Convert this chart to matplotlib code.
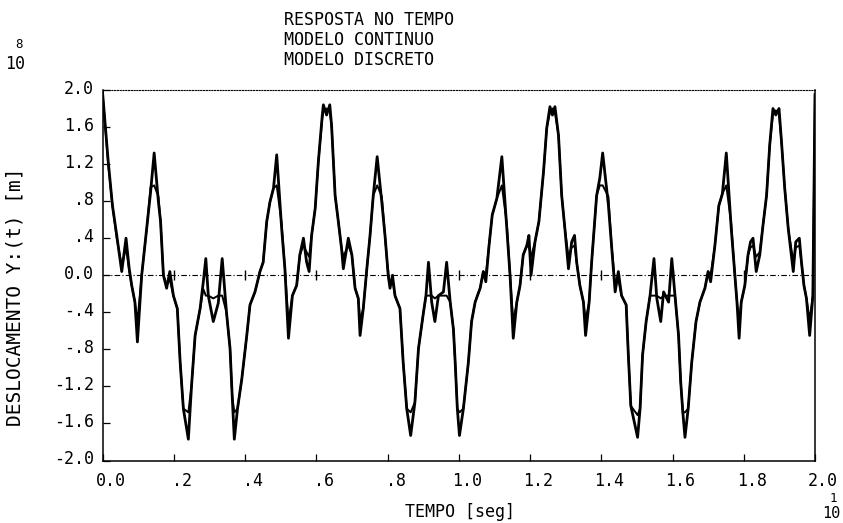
import matplotlib
matplotlib.use("Agg")
import matplotlib.pyplot as plt
from matplotlib.transforms import ScaledTranslation

# ---------------- data ----------------
tempo = [
    0.000, 0.016, 0.028, 0.040, 0.054, 0.066, 0.075, 0.082, 0.091, 0.098,
    0.110, 0.124, 0.135, 0.145, 0.157, 0.163, 0.171, 0.180, 0.189, 0.199,
    0.210, 0.218, 0.227, 0.241, 0.250, 0.260, 0.274, 0.283, 0.290, 0.297,
    0.311, 0.325, 0.336, 0.348, 0.358, 0.364, 0.370, 0.379, 0.391, 0.405,
    0.414, 0.428, 0.442, 0.451, 0.461, 0.470, 0.480, 0.489, 0.503, 0.512,
    0.522, 0.533, 0.545, 0.554, 0.564, 0.573, 0.580, 0.587, 0.597, 0.606,
    0.617, 0.620, 0.629, 0.638, 0.643, 0.653, 0.662, 0.671, 0.676, 0.690,
    0.700, 0.709, 0.718, 0.723, 0.732, 0.742, 0.751, 0.760, 0.771, 0.784,
    0.793, 0.802, 0.807, 0.814, 0.821, 0.835, 0.844, 0.854, 0.865, 0.877,
    0.887, 0.901, 0.908, 0.915, 0.924, 0.933, 0.943, 0.957, 0.966, 0.976,
    0.985, 0.990, 0.996, 1.002, 1.013, 1.027, 1.036, 1.046, 1.060, 1.069,
    1.076, 1.085, 1.094, 1.107, 1.121, 1.135, 1.144, 1.153, 1.163, 1.172,
    1.181, 1.191, 1.197, 1.203, 1.214, 1.225, 1.238, 1.247, 1.256, 1.263,
    1.270, 1.280, 1.289, 1.298, 1.308, 1.317, 1.325, 1.331, 1.340, 1.350,
    1.356, 1.366, 1.373, 1.378, 1.387, 1.396, 1.404, 1.420, 1.429, 1.439,
    1.448, 1.457, 1.470, 1.476, 1.483, 1.502, 1.509, 1.516, 1.526, 1.537,
    1.548, 1.556, 1.567, 1.575, 1.589, 1.598, 1.607, 1.617, 1.623, 1.629,
    1.635, 1.644, 1.654, 1.666, 1.677, 1.691, 1.700, 1.707, 1.719, 1.730,
    1.740, 1.751, 1.765, 1.775, 1.781, 1.787, 1.793, 1.803, 1.812, 1.819,
    1.826, 1.835, 1.845, 1.854, 1.864, 1.873, 1.882, 1.890, 1.899, 1.906,
    1.915, 1.925, 1.939, 1.946, 1.956, 1.962, 1.969, 1.976, 1.985, 1.994, 2.000,
]

y_continuo = [
    1.98, 1.23, 0.75, 0.43, 0.04, 0.40, 0.07, -0.11, -0.29, -0.72,
    0.00, 0.50, 0.90, 1.32, 0.79, 0.58, 0.00, -0.14, 0.04, -0.22,
    -0.36, -0.94, -1.44, -1.77, -1.19, -0.65, -0.36, -0.07, 0.18, -0.22,
    -0.50, -0.30, 0.18, -0.40, -0.79, -1.30, -1.77, -1.44, -1.12, -0.65,
    -0.32, -0.18, 0.04, 0.14, 0.58, 0.79, 0.94, 1.30, 0.50, 0.07,
    -0.68, -0.22, -0.11, 0.22, 0.40, 0.14, 0.04, 0.43, 0.72, 1.23,
    1.73, 1.84, 1.73, 1.84, 1.62, 0.86, 0.58, 0.29, 0.07, 0.40,
    0.22, -0.14, -0.25, -0.65, -0.36, 0.07, 0.43, 0.86, 1.28, 0.79,
    0.43, 0.00, -0.14, 0.00, -0.22, -0.36, -0.94, -1.44, -1.73, -1.37,
    -0.79, -0.40, -0.22, 0.14, -0.29, -0.50, -0.22, -0.18, 0.14, -0.29,
    -0.58, -0.94, -1.44, -1.73, -1.44, -0.94, -0.50, -0.29, -0.14, 0.04,
    -0.07, 0.32, 0.65, 0.83, 1.28, 0.50, 0.00, -0.68, -0.29, -0.11,
    0.22, 0.32, 0.43, 0.00, 0.36, 0.58, 1.12, 1.59, 1.82, 1.73,
    1.82, 1.51, 0.86, 0.50, 0.07, 0.36, 0.43, 0.14, -0.11, -0.29,
    -0.65, -0.29, 0.14, 0.40, 0.86, 1.05, 1.32, 0.76, 0.32, -0.18,
    0.04, -0.22, -0.32, -0.86, -1.41, -1.75, -1.44, -0.86, -0.50, -0.22,
    0.18, -0.25, -0.50, -0.18, -0.29, 0.18, -0.22, -0.65, -1.15, -1.48,
    -1.75, -1.44, -0.94, -0.50, -0.29, -0.14, 0.04, -0.07, 0.32, 0.75,
    0.88, 1.32, 0.50, 0.00, -0.29, -0.68, -0.29, -0.11, 0.22, 0.36,
    0.40, 0.04, 0.22, 0.54, 0.86, 1.41, 1.80, 1.73, 1.80, 1.44,
    0.94, 0.50, 0.04, 0.36, 0.40, 0.14, -0.11, -0.25, -0.65, -0.22, 1.95,
]

y_discreto = [
    1.98, 1.20, 0.75, 0.40, 0.10, 0.30, 0.05, -0.11, -0.29, -0.50,
    0.00, 0.50, 0.95, 0.97, 0.85, 0.58, 0.00, -0.10, -0.05, -0.22,
    -0.36, -0.94, -1.44, -1.48, -1.19, -0.65, -0.36, -0.15, -0.22, -0.22,
    -0.25, -0.22, -0.22, -0.40, -0.79, -1.30, -1.48, -1.44, -1.12, -0.65,
    -0.32, -0.18, 0.04, 0.14, 0.58, 0.79, 0.94, 0.97, 0.55, 0.07,
    -0.50, -0.22, -0.11, 0.22, 0.32, 0.25, 0.20, 0.43, 0.72, 1.23,
    1.70, 1.76, 1.80, 1.76, 1.62, 0.86, 0.58, 0.29, 0.20, 0.32,
    0.22, -0.14, -0.25, -0.48, -0.36, 0.07, 0.43, 0.86, 0.97, 0.85,
    0.43, 0.00, -0.10, -0.05, -0.22, -0.36, -0.94, -1.44, -1.48, -1.37,
    -0.79, -0.40, -0.22, -0.22, -0.22, -0.25, -0.22, -0.22, -0.22, -0.29,
    -0.58, -0.94, -1.44, -1.48, -1.44, -0.94, -0.50, -0.29, -0.14, 0.04,
    0.00, 0.32, 0.65, 0.83, 0.97, 0.55, 0.00, -0.50, -0.29, -0.11,
    0.22, 0.32, 0.30, 0.20, 0.36, 0.58, 1.12, 1.59, 1.76, 1.80,
    1.76, 1.51, 0.86, 0.50, 0.20, 0.30, 0.32, 0.14, -0.11, -0.29,
    -0.48, -0.29, 0.14, 0.40, 0.86, 0.97, 0.97, 0.85, 0.32, -0.10,
    -0.05, -0.22, -0.32, -0.86, -1.41, -1.51, -1.44, -0.86, -0.50, -0.22,
    -0.22, -0.22, -0.25, -0.22, -0.22, -0.22, -0.22, -0.65, -1.15, -1.48,
    -1.48, -1.44, -0.94, -0.50, -0.29, -0.14, 0.04, 0.00, 0.32, 0.75,
    0.88, 0.97, 0.55, 0.00, -0.29, -0.50, -0.29, -0.11, 0.22, 0.30,
    0.32, 0.20, 0.25, 0.54, 0.86, 1.41, 1.74, 1.78, 1.74, 1.44,
    0.94, 0.50, 0.15, 0.30, 0.32, 0.14, -0.11, -0.25, -0.48, -0.22, 1.95,
]

x_ticks = [0.0, 0.2, 0.4, 0.6, 0.8, 1.0, 1.2, 1.4, 1.6, 1.8, 2.0]
x_labels = ["0.0", ".2", ".4", ".6", ".8", "1.0", "1.2", "1.4", "1.6", "1.8", "2.0"]
y_ticks = [2.0, 1.6, 1.2, 0.8, 0.4, 0.0, -0.4, -0.8, -1.2, -1.6, -2.0]
y_labels = ["2.0", "1.6", "1.2", ".8", ".4", "0.0", "-.4", "-.8", "-1.2", "-1.6", "-2.0"]
zero_marks = [0.2, 0.4, 0.6, 0.8, 1.0, 1.2, 1.4, 1.6, 1.8]

titulos = ["RESPOSTA NO TEMPO", "MODELO CONTINUO", "MODELO DISCRETO"]
x_titulo = "TEMPO [seg]"
y_titulo = "DESLOCAMENTO Y:(t) [m]"

# ---------------- drawing ----------------
W, H = 843, 523
FONT = "DejaVu Sans Mono"
FS = 12


def fx(px):
    return px / W


def fy(py):
    return 1 - py / H


fig = plt.figure(figsize=(W / 100, H / 100), dpi=100)
fig.patch.set_facecolor("white")
ax = fig.add_axes([fx(102.5), fy(460.5), fx(815) - fx(102.5), fy(90) - fy(460.5)])
ax.set_xlim(0, 2)
ax.set_ylim(-2, 2)

ax.axhline(0, color="black", lw=0.8, linestyle=(0, (5, 2, 1, 2)), zorder=1)
ax.plot(zero_marks, [0] * len(zero_marks), ls="none", marker="|", ms=7,
        mew=1.0, color="black", zorder=1)
ax.plot(tempo, y_discreto, color="black", lw=1.4, zorder=2)
ax.plot(tempo, y_continuo, color="black", lw=2.0, zorder=3)

for s in ("left", "bottom", "right"):
    ax.spines[s].set_linewidth(1.1)
    ax.spines[s].set_color("black")
ax.spines["top"].set_linestyle((0, (1, 1.5)))
ax.spines["top"].set_linewidth(0.8)

ax.set_xticks(x_ticks, x_labels, fontfamily=FONT, fontsize=FS)
ax.set_yticks(y_ticks, y_labels, fontfamily=FONT, fontsize=FS)
ax.tick_params(axis="both", direction="in", length=5, width=0.9, colors="black")
ax.tick_params(axis="x", pad=8)
ax.tick_params(axis="y", pad=6)
for lbl in ax.get_xticklabels():
    lbl.set_transform(lbl.get_transform() + ScaledTranslation(8 / 100, 0, fig.dpi_scale_trans))
for lbl in ax.get_yticklabels():
    lbl.set_transform(lbl.get_transform() + ScaledTranslation(0, 3 / 100, fig.dpi_scale_trans))

for i, txt in enumerate(titulos):
    fig.text(fx(284), fy(20 + 20 * i), txt, ha="left", va="center",
             fontfamily=FONT, fontsize=FS)

fig.text(fx(5), fy(64), "10", ha="left", va="center", fontfamily=FONT, fontsize=FS)
fig.text(fx(19), fy(45), "8", ha="center", va="center", fontfamily=FONT, fontsize=FS - 3)

fig.text(fx(460), fy(512), x_titulo, ha="center", va="center", fontfamily=FONT, fontsize=FS)
fig.text(fx(831), fy(514), "10", ha="center", va="center", fontfamily=FONT, fontsize=FS - 1)
fig.text(fx(833), fy(499), "1", ha="center", va="center", fontfamily=FONT, fontsize=FS - 3)

fig.text(fx(15), fy(297), y_titulo, ha="center", va="center", rotation=90,
         fontfamily=FONT, fontsize=14)

fig.savefig("out.png", dpi=100, facecolor="white")
